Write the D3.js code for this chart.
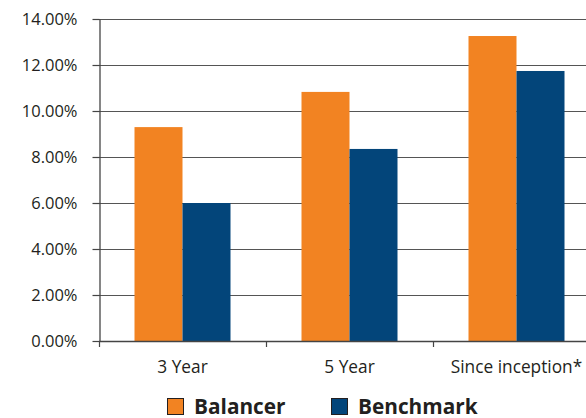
<!DOCTYPE html>
<html><head><meta charset="utf-8">
<script src="https://cdn.jsdelivr.net/npm/d3@7"></script>
<style>body{margin:0;background:#fff}svg{display:block}</style>
</head><body>
<svg id="c" width="586" height="418"></svg>
<script>
const categories = ["3 Year", "5 Year", "Since inception*"];
const balancer = [9.30, 10.83, 13.26];
const benchmark = [6.00, 8.35, 11.74];
const seriesNames = ["Balancer", "Benchmark"];
const seriesColors = ["#f28322", "#03457a"];
const yTicks = [0, 2, 4, 6, 8, 10, 12, 14];

const svg = d3.select("#c");
const font = "'Open Sans', 'Noto Sans', sans-serif";
const x = d3.scaleBand().domain(categories).range([99, 600]).paddingInner(0).paddingOuter(0);
const y = d3.scaleLinear().domain([0, 14]).range([341, 19]);

// grid
svg.append("g").selectAll("line").data(yTicks.filter(d => d > 0)).join("line")
  .attr("x1", 99).attr("x2", 586).attr("y1", d => Math.round(y(d)) + 0.5).attr("y2", d => Math.round(y(d)) + 0.5)
  .attr("stroke", "#555").attr("stroke-width", 1.2);

// bars
const data = [balancer, benchmark];
const bw = 48;
seriesNames.forEach((s, i) => {
  svg.append("g").selectAll("rect").data(categories).join("rect")
    .attr("x", c => x(c) + x.bandwidth() / 2 - bw + i * bw)
    .attr("width", bw)
    .attr("y", (c, j) => y(data[i][j]))
    .attr("height", (c, j) => y(0) - y(data[i][j]))
    .attr("fill", seriesColors[i]);
});

// y axis
const yAxis = d3.axisLeft(y).tickValues(yTicks).tickFormat(d => d3.format(".2f")(d) + "%").tickSize(7).tickSizeOuter(0);
const ya = svg.append("g").attr("transform", "translate(99.5,0)").call(yAxis);
ya.select(".domain").attr("stroke", "#444").attr("stroke-width", 1.3);
ya.selectAll(".tick line").attr("stroke", "#444").attr("stroke-width", 1.2);
ya.selectAll(".tick text").attr("x", -22).attr("dy", "0.36em").attr("font-family", font).attr("font-size", 16.5).attr("fill", "#231f20");

// x axis
svg.append("line").attr("x1", 99).attr("x2", 586).attr("y1", 341.5).attr("y2", 341.5).attr("stroke", "#444").attr("stroke-width", 1.3);
const bounds = categories.map(c => x(c)).concat([x(categories[categories.length - 1]) + x.bandwidth()]);
svg.append("g").selectAll("line").data(bounds).join("line")
  .attr("x1", d => Math.round(d) + 0.5).attr("x2", d => Math.round(d) + 0.5).attr("y1", 341).attr("y2", 347)
  .attr("stroke", "#444").attr("stroke-width", 1.2);
svg.append("g").selectAll("text").data(categories).join("text")
  .attr("x", c => x(c) + x.bandwidth() / 2).attr("y", 373)
  .attr("text-anchor", "middle").attr("font-family", font).attr("font-size", 17.3).attr("fill", "#231f20")
  .text(c => c);

// legend
const legX = [167, 331];
seriesNames.forEach((s, i) => {
  svg.append("rect").attr("x", legX[i] + 0.5).attr("y", 398.5).attr("width", 16).attr("height", 16)
    .attr("fill", seriesColors[i]).attr("stroke", "#231f20").attr("stroke-width", 1);
  svg.append("text").attr("x", legX[i] + 27).attr("y", 413.5).attr("font-family", font)
    .attr("font-size", 20.8).attr("font-weight", "bold").attr("fill", "#231f20").text(s);
});
</script>
</body></html>
